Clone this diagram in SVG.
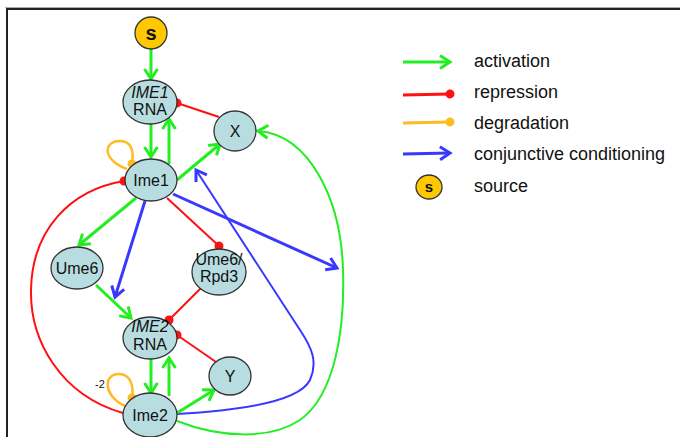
<svg xmlns="http://www.w3.org/2000/svg" width="680" height="437" viewBox="0 0 680 437">
  <defs>
    <style>
      .node ellipse { fill: #b8dde1; stroke: #333; stroke-width: 1.3; }
      .src ellipse { fill: #ffc800; stroke: #333; stroke-width: 1.3; }
      .lbl { font-family: "Liberation Sans", Arial, sans-serif; font-size: 16px; fill: #111; text-anchor: middle; }
      .it { font-style: italic; }
      .s { font-family: "Liberation Sans", Arial, sans-serif; font-weight: bold; fill: #111; text-anchor: middle; }
      .leg { font-family: "Liberation Sans", Arial, sans-serif; font-size: 18px; fill: #111; }
      .act { stroke: #22ee22; stroke-width: 3; fill: none; marker-end: url(#arrG); }
      .rep { stroke: #ff1111; stroke-width: 2; fill: none; marker-end: url(#dotR); }
      .deg { stroke: #ffbb22; stroke-width: 2.5; fill: none; marker-end: url(#dotY); }
      .con { stroke: #3838ff; stroke-width: 3; fill: none; marker-end: url(#arrB); }
      .act2 { stroke: #22ee22; stroke-width: 2; fill: none; marker-end: url(#arrG); }
      .con2 { stroke: #3838ff; stroke-width: 2; fill: none; marker-end: url(#arrB); }
      .thick { stroke-width: 3; }
    </style>
    <marker id="arrG" markerUnits="userSpaceOnUse" markerWidth="20" markerHeight="20" refX="12" refY="8" orient="auto" overflow="visible">
      <path d="M2,1.5 L12,8 L2,14.5" fill="none" stroke="#22ee22" stroke-width="3" stroke-linejoin="miter"/>
    </marker>
    <marker id="arrB" markerUnits="userSpaceOnUse" markerWidth="20" markerHeight="20" refX="12" refY="8" orient="auto" overflow="visible">
      <path d="M2,1.5 L12,8 L2,14.5" fill="none" stroke="#3838ff" stroke-width="3" stroke-linejoin="miter"/>
    </marker>
    <marker id="dotR" markerUnits="userSpaceOnUse" markerWidth="10" markerHeight="10" refX="5" refY="5" orient="auto" overflow="visible">
      <circle cx="5" cy="5" r="4.5" fill="#ff1111"/>
    </marker>
    <marker id="dotY" markerUnits="userSpaceOnUse" markerWidth="10" markerHeight="10" refX="5" refY="5" orient="auto" overflow="visible">
      <circle cx="5" cy="5" r="4.5" fill="#ffbb22"/>
    </marker>
  </defs>

  <rect x="0" y="0" width="680" height="437" fill="#fff"/>
  <!-- frame -->
  <path d="M5,7.5 L680,7.5" stroke="#aaa" stroke-width="1" fill="none"/>
  <path d="M7,437 L7,9 L680,9" stroke="#222" stroke-width="2" fill="none"/>

  <g id="connectors">
    <path class="act" d="M151,49 L151,79"/>
    <path class="act" d="M151,124 L151,157"/>
    <path class="act" d="M169,164 L169,119"/>
    <path class="rep" d="M219,117 L177,103"/>
    <path class="act" d="M177,180 L220,144"/>
    <path class="deg" d="M127,169 C102,160 103,141 120,141 C132,141 134,152 132,164"/>
    <path class="rep" d="M123,413 C60,395 30,340 31,290 C32,230 70,190 124,181"/>
    <path class="act" d="M136,198 L79,245"/>
    <path class="con" d="M145,201 L115,297"/>
    <path class="rep" d="M167,198 L219,246"/>
    <path class="con" d="M173,194 L337,268"/>
    <path class="con2" d="M177,414 C250,410 300,400 310,380 C318,362 312,348 300,330 L196,170"/>
    <path class="act2" d="M177,421 C220,438 270,440 300,420 C335,395 345,330 343,270 C341,200 310,135 258,131"/>
    <path class="act" d="M96,285 L131,318"/>
    <path class="rep" d="M204,285 L169,320"/>
    <path class="rep" d="M216,362 L177,335"/>
    <path class="act" d="M151,358 L151,393"/>
    <path class="act" d="M169,396 L169,358"/>
    <path class="act" d="M177,413 L214,390"/>
    <path class="deg" d="M125,406 C103,396 103,374 119,374 C131,374 134,387 132,398"/>
  </g>
  <text x="100" y="388" font-family="Liberation Sans, Arial, sans-serif" font-size="11" fill="#111" text-anchor="middle">-2</text>

  <g id="source" class="src">
    <ellipse cx="151" cy="33" rx="16" ry="16"/>
    <text class="s" x="151" y="40" font-size="20">s</text>
  </g>
  <g id="ime1-rna" class="node">
    <ellipse cx="150" cy="102" rx="27" ry="22"/>
    <text class="lbl it" x="150" y="98">IME1</text>
    <text class="lbl" x="150" y="115">RNA</text>
  </g>
  <g id="x" class="node">
    <ellipse cx="235" cy="131" rx="21" ry="20"/>
    <text class="lbl" x="235" y="137">X</text>
  </g>
  <g id="ime1" class="node">
    <ellipse cx="151" cy="180" rx="26" ry="21"/>
    <text class="lbl" x="151" y="186">Ime1</text>
  </g>
  <g id="ume6" class="node">
    <ellipse cx="77" cy="268" rx="26" ry="21"/>
    <text class="lbl" x="77" y="274">Ume6</text>
  </g>
  <g id="ume6-rpd3" class="node">
    <ellipse cx="219" cy="272" rx="27" ry="23"/>
    <text class="lbl" x="219" y="265">Ume6/</text>
    <text class="lbl" x="219" y="282">Rpd3</text>
  </g>
  <g id="ime2-rna" class="node">
    <ellipse cx="150" cy="338" rx="27" ry="21"/>
    <text class="lbl it" x="150" y="332">IME2</text>
    <text class="lbl" x="150" y="350">RNA</text>
  </g>
  <g id="y" class="node">
    <ellipse cx="230" cy="376" rx="21" ry="19"/>
    <text class="lbl" x="230" y="382">Y</text>
  </g>
  <g id="ime2" class="node">
    <ellipse cx="150" cy="415" rx="27" ry="22"/>
    <text class="lbl" x="150" y="421">Ime2</text>
  </g>

  <g id="legend">
    <path class="act" d="M403,62 L450,62"/>
    <text class="leg" x="474" y="67">activation</text>
    <path class="rep thick" d="M403,95 L450,94"/>
    <text class="leg" x="474" y="98">repression</text>
    <path class="deg thick" d="M403,123 L450,122"/>
    <text class="leg" x="474" y="129">degradation</text>
    <path class="con" d="M403,154 L450,153"/>
    <text class="leg" x="474" y="160">conjunctive conditioning</text>
    <g class="src">
      <ellipse cx="429" cy="187" rx="13" ry="12"/>
      <text class="s" x="429" y="192" font-size="15">s</text>
    </g>
    <text class="leg" x="474" y="192">source</text>
  </g>
</svg>
